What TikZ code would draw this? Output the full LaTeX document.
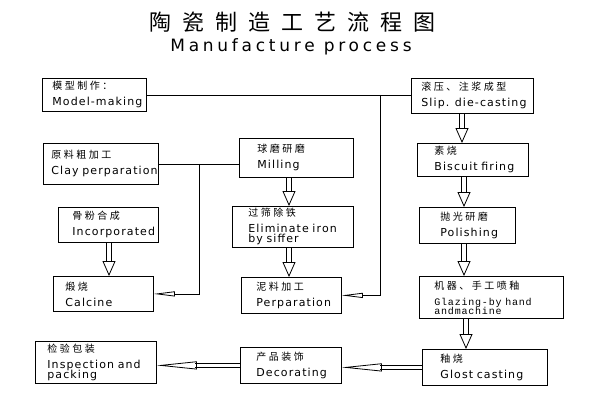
\documentclass[tikz,border=0pt]{standalone}
\usepackage{fontspec}
\usetikzlibrary{arrows.meta,calc}
\newfontfamily\cnfont[LetterSpace=25]{Noto Sans CJK SC}
\newfontfamily\titlefont[LetterSpace=50]{Noto Sans CJK SC}
\newfontfamily\enfont[LetterSpace=10]{DejaVu Sans}
\newfontfamily\subfont[LetterSpace=22]{DejaVu Sans}
\newfontfamily\monofont[LetterSpace=8]{Liberation Mono}
\newcommand\zh[1]{{\cnfont\fontsize{10}{16}\selectfont #1}}
\tikzset{
  box/.style={draw, line width=0.8, anchor=north west, align=left, inner ysep=1,
    font=\enfont\fontsize{11}{16}\selectfont},
  shaft/.style={double, double distance=4, line width=0.8, shorten >=14},
  head/.style={draw=white, line width=0.1, -{Triangle[open, color=black, line width=0.8, length=15, width=13]}},
  flatshaft/.style={double, double distance=3, line width=0.8, shorten >=38},
  flathead/.style={draw=white, line width=0.1, -{Triangle[open, color=black, line width=0.8, length=40, width=8]}},
  elbow/.style={line width=0.8, -{Triangle[open,length=21,width=5]}},
}
% hollow block arrow: double shaft, then open head
\newcommand\downarr[2]{\draw[shaft] #1 -- #2; \draw[head] #1 -- #2;}
\newcommand\sidearr[2]{\draw[flatshaft] #1 -- #2; \draw[flathead] #1 -- #2;}

\begin{document}
\begin{tikzpicture}[x=1pt, y=-1pt]
    \useasboundingbox (0,0) rectangle (600,400);
    %% titles
    \node[font=\titlefont\fontsize{22}{24}\selectfont] (title) at (292,22) {陶瓷制造工艺流程图};
    \node[font=\subfont\fontsize{17}{19}\selectfont] (subtitle) at (291,47) {Manufacture process};

    %% left column
    \node[box, minimum height=33, text width=84, inner xsep=10] (model) at (42,78) {\zh{模型制作：}\\\mbox{Model-making}};
    \node[box, minimum height=41, text width=99, inner xsep=8] (clay) at (43,143) {\zh{原料粗加工}\\\mbox{Clay perparation}};
    \node[box, minimum height=35, text width=72, inner xsep=14] (inc) at (58,207) {\zh{骨粉合成}\\Incorporated};
    \node[box, minimum height=35, text width=76, inner xsep=12] (calc) at (53,276) {\zh{煅烧}\\Calcine};
    \node[box, minimum height=42, text width=97, inner xsep=12] (insp) at (35,341) {\zh{检验包装}\\\mbox{Inspection and}\\[-6pt]packing};

    %% middle column
    \node[box, minimum height=39, text width=78, inner xsep=18] (mill) at (239,138) {\zh{球磨研磨}\\Milling};
    \node[box, minimum height=41, text width=89, inner xsep=16] (elim) at (232,206) {\zh{过筛除铁}\\\mbox{Eliminate iron}\\[-6pt]by siffer};
    \node[box, minimum height=36, text width=70, inner xsep=15] (perp) at (241,277) {\zh{泥料加工}\\Perparation};
    \node[box, minimum height=36, text width=69, inner xsep=16] (deco) at (240,347) {\zh{产品装饰}\\Decorating};

    %% right column
    \node[box, minimum height=35, text width=102, inner xsep=10] (slip) at (411,78) {\zh{滚压、注浆成型}\\\mbox{Slip. die-casting}};
    \node[box, minimum height=33, text width=77, inner xsep=17] (bisc) at (417,143) {\zh{素烧}\\\mbox{Biscuit firing}};
    \node[box, minimum height=36, text width=54, inner xsep=21] (pol) at (419,207) {\zh{抛光研磨}\\Polishing};
    \node[box, minimum height=42, text width=114, inner xsep=15] (glaz) at (419,276) {\zh{机器、手工喷釉}\\{\monofont\fontsize{10}{16}\selectfont\mbox{Glazing-by hand}\\[-7pt]andmachine}};
    \node[box, minimum height=36, text width=89, inner xsep=18] (glost) at (422,349) {\zh{釉烧}\\\mbox{Glost casting}};

    %% plain lines and elbows
    \coordinate (j1) at (380,0 |- model.east);
    \coordinate (j2) at (199,0 |- clay.east);
    \draw[line width=0.8] (model.east) -- (model.east -| slip.west);
    \draw[line width=0.8] (clay.east) -- (clay.east -| mill.west);
    \draw[elbow] (j1) |- (perp.east);
    \draw[elbow] (j2) |- (calc.east);

    %% hollow arrows
    \downarr{(109,0 |- inc.south)}{(109,0 |- calc.north)}
    \downarr{(289,0 |- mill.south)}{(289,0 |- elim.north)}
    \downarr{(289,0 |- elim.south)}{(289,0 |- perp.north)}
    \downarr{(462,0 |- slip.south)}{(462,0 |- bisc.north)}
    \downarr{(464,0 |- bisc.south)}{(464,0 |- pol.north)}
    \downarr{(464,0 |- pol.south)}{(464,0 |- glaz.north)}
    \downarr{(466,0 |- glaz.south)}{(466,0 |- glost.north)}
    \sidearr{(glost.west)}{(glost.west -| deco.east)}
    \sidearr{(deco.west)}{(deco.west -| insp.east)}
\end{tikzpicture}
\end{document}
